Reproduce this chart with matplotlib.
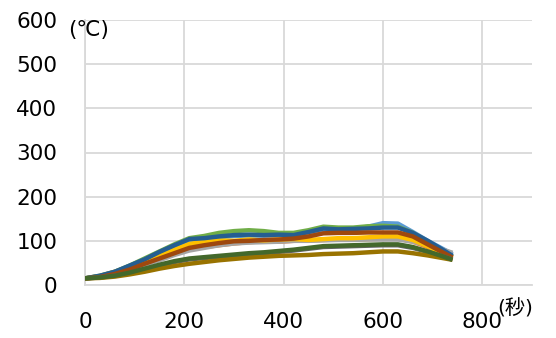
import matplotlib
matplotlib.use("Agg")
import matplotlib.pyplot as plt

t = [0, 30, 60, 90, 120, 150, 180, 210, 240, 270, 300, 330, 360, 390, 420,
     450, 480, 510, 540, 570, 600, 630, 660, 690, 720, 740]

light_blue = [15, 20, 29, 43, 57, 74, 89, 102, 104, 108, 111, 112, 112, 113, 113, 119, 125, 125, 127, 132, 140, 139, 120, 100, 82, 70]
orange     = [15, 20, 30, 42, 50, 60, 72, 80, 86, 90, 94, 97, 99, 98, 100, 101, 102, 103, 103, 104, 105, 105, 98, 86, 72, 62]
gray       = [15, 18, 25, 35, 46, 56, 68, 78, 84, 90, 94, 96, 97, 98, 100, 100, 101, 102, 102, 103, 103, 103, 98, 90, 80, 73]
gold       = [15, 19, 27, 39, 52, 66, 80, 93, 98, 101, 100, 103, 101, 103, 104, 102, 104, 106, 106, 108, 110, 110, 102, 88, 72, 62]
green      = [15, 21, 30, 44, 60, 76, 92, 106, 111, 118, 122, 124, 122, 118, 118, 124, 132, 130, 130, 133, 134, 132, 118, 98, 78, 64]
dark_blue  = [15, 21, 30, 44, 58, 75, 90, 104, 106, 110, 113, 114, 113, 114, 113, 120, 128, 126, 127, 128, 130, 130, 118, 100, 80, 66]
brown      = [15, 18, 25, 35, 48, 60, 72, 84, 90, 95, 99, 100, 102, 103, 105, 110, 117, 118, 118, 119, 119, 119, 110, 92, 74, 62]
dark_gray  = [15, 17, 21, 27, 35, 44, 52, 58, 61, 64, 67, 70, 72, 75, 78, 82, 86, 87, 88, 89, 90, 90, 84, 75, 65, 58]
olive      = [15, 16, 19, 24, 30, 37, 43, 48, 52, 56, 59, 62, 64, 66, 67, 68, 70, 71, 72, 74, 76, 76, 72, 67, 61, 57]
dark_green = [15, 17, 21, 28, 37, 46, 54, 60, 63, 66, 69, 72, 74, 77, 80, 84, 88, 89, 90, 91, 92, 92, 86, 76, 65, 57]

series = [
    (light_blue, "#5B9BD5"),
    (orange, "#ED7D31"),
    (gray, "#A5A5A5"),
    (gold, "#FFC000"),
    (green, "#70AD47"),
    (dark_blue, "#255E91"),
    (brown, "#9E480E"),
    (dark_gray, "#636363"),
    (olive, "#997300"),
    (dark_green, "#43682B"),
]

x_ticks = [0, 200, 400, 600, 800]
y_ticks = [0, 100, 200, 300, 400, 500, 600]

fig = plt.figure(figsize=(5.56, 3.38), dpi=100)
ax = fig.add_axes([85/556, 53/338, 447/556, 265/338])

for vals, c in series:
    ax.plot(t, vals, color=c, lw=3.2, solid_capstyle="butt", zorder=3)

ax.set_xlim(0, 900)
ax.set_ylim(0, 600)
ax.set_xticks(x_ticks)
ax.set_yticks(y_ticks)
ax.grid(True, color="#D9D9D9", lw=1.3, zorder=0)
ax.set_axisbelow(True)
for s in ["top", "right"]:
    ax.spines[s].set_visible(False)
for s in ["left", "bottom"]:
    ax.spines[s].set_color("#D9D9D9")
    ax.spines[s].set_linewidth(1.3)
ax.tick_params(length=0, labelsize=15.5, colors="black")
ax.tick_params(axis="y", pad=20)
ax.tick_params(axis="x", pad=19.5)

fig.text(68/556, 1 - 30/338, "(℃)", fontsize=15.5, va="center", ha="left",
         family=["DejaVu Sans", "Noto Sans CJK JP"])
fig.text(497/556, 1 - 309/338, "(秒)", fontsize=14.5, va="center", ha="left",
         family=["DejaVu Sans", "Noto Sans CJK JP"])

fig.savefig("out.png", dpi=100)
